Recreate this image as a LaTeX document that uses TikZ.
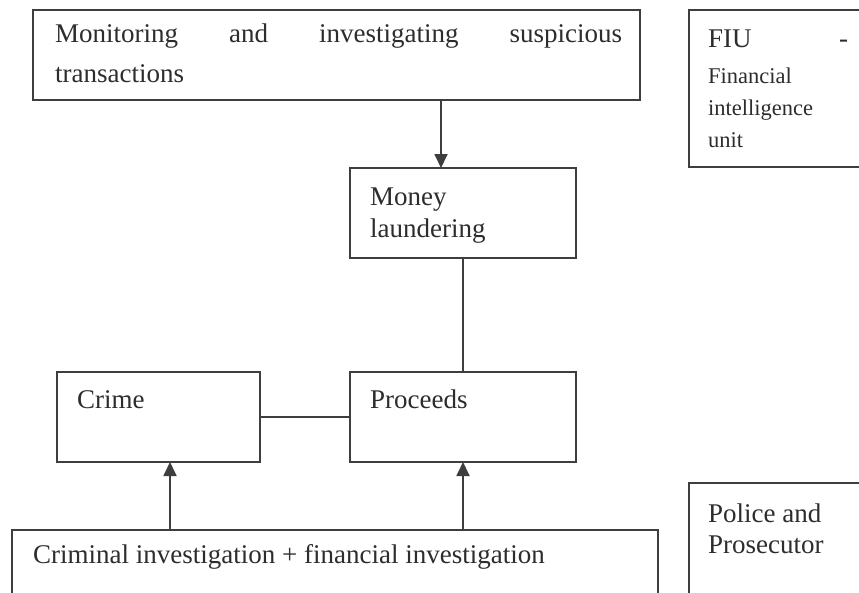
\documentclass[tikz,border=0pt]{standalone}
\usepackage{fontspec}
\setmainfont{Liberation Serif}
\usetikzlibrary{arrows.meta}
\definecolor{linec}{RGB}{62,62,62}
\definecolor{txtc}{RGB}{45,45,45}
\begin{document}
\begin{tikzpicture}[x=1pt,y=-1pt,
  box/.style={draw=linec, line width=1.8pt, rectangle, inner sep=0pt, outer sep=0pt, anchor=north west},
  big/.style={font=\fontsize{27}{32}\selectfont, text=txtc, inner sep=0pt, anchor=base west, align=left},
  small/.style={font=\fontsize{22.5}{32}\selectfont, text=txtc, inner sep=0pt, anchor=base west, align=left},
  conn/.style={draw=linec, line width=1.8pt},
  arr/.style={conn, -{Triangle[width=13pt,length=14pt]}}]
\clip (0,0) rectangle (859,592);
\fill[white] (0,0) rectangle (859,592);
% boxes
\node[box, minimum width=607pt, minimum height=90pt] (mon) at (33,10) {};
\node[box, minimum width=226pt, minimum height=90pt] (ml) at (350,168) {};
\node[box, minimum width=203pt, minimum height=90pt] (crime) at (57,372) {};
\node[box, minimum width=226pt, minimum height=90pt] (proc) at (350,372) {};
\node[box, minimum width=646pt, minimum height=80pt] (bot) at (12,530) {};
\node[box, minimum width=190pt, minimum height=157pt] (fiu) at (689,10) {};
\node[box, minimum width=190pt, minimum height=130pt] (pol) at (689,483) {};
% texts (anchor = baseline of the last line)
\node[big, font=\fontsize{27}{40}\selectfont] (montext) at (55,82) {\makebox[567pt][s]{Monitoring and investigating suspicious}\\transactions};
\node[big] (mltext) at (370,237) {Money\\laundering};
\node[big] (crimetext) at (77,408) {Crime};
\node[big] (proctext) at (370,408) {Proceeds};
\node[big] (bottext) at (33,563) {Criminal investigation + financial investigation};
\node[big] (fiutext) at (708,47) {\makebox[140pt][s]{FIU -}};
\node[small] (fiusub) at (708,147) {Financial\\intelligence\\unit};
\node[big, font=\fontsize{27}{31}\selectfont] (poltext) at (708,553) {Police and\\Prosecutor};
% connectors
\coordinate (xa) at (441,0);
\coordinate (xb) at (170,0);
\draw[arr] (mon.south -| xa) -- (ml.north -| xa);
\draw[conn] (ml.south) -- (proc.north);
\draw[conn] (crime.east) -- (proc.west);
\draw[arr] (bot.north -| xb) -- (crime.south -| xb);
\draw[arr] (bot.north -| proc.south) -- (proc.south);
\end{tikzpicture}
\end{document}
